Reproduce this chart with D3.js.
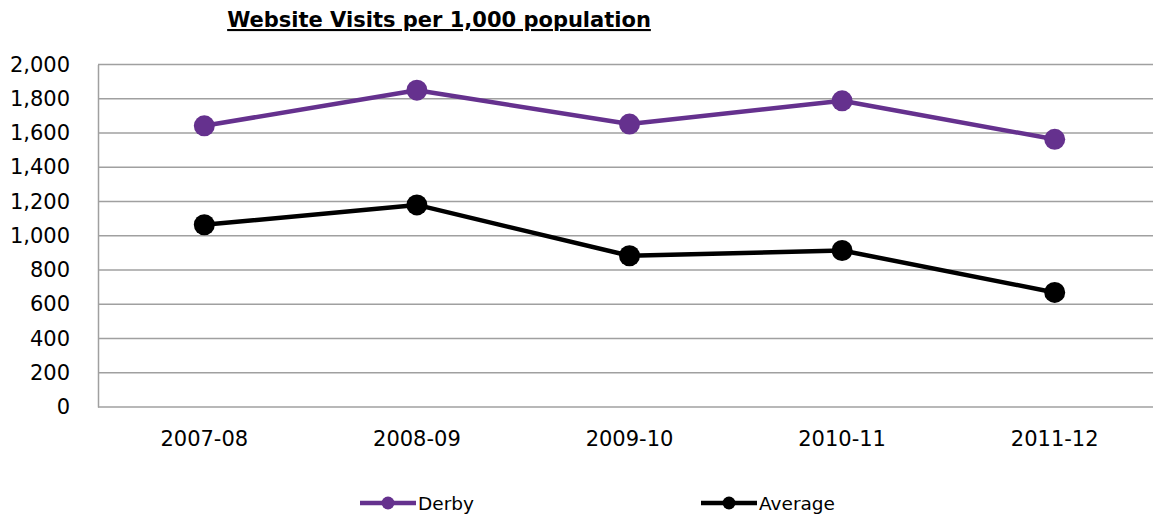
<!DOCTYPE html>
<html><head><meta charset="utf-8">
<script src="https://cdn.jsdelivr.net/npm/d3@7"></script>
<style>body{margin:0;background:#fff;} svg{display:block;font-family:"DejaVu Sans",Verdana,sans-serif;}</style>
</head><body><svg id="c" width="1153" height="516"></svg>
<script>
const categories = ["2007-08","2008-09","2009-10","2010-11","2011-12"];
const derby = [1642, 1850, 1652, 1788, 1563];
const average = [1064, 1180, 883, 914, 669];
const yTicks = [0,200,400,600,800,1000,1200,1400,1600,1800,2000];
const seriesNames = ["Derby","Average"];
const seriesColors = ["#65318e","#000000"];

const FS = 21;
const svg = d3.select("#c");
const m = {left:98, top:64.5, right:-8, bottom:109};
const W = 1153, H = 516;
const x = d3.scaleBand().domain(categories).range([m.left, W - m.right]);
const y = d3.scaleLinear().domain([0,2000]).range([H - m.bottom, m.top]);

// gridlines
svg.append("g").selectAll("line").data(yTicks).join("line")
  .attr("x1", m.left).attr("x2", W - m.right)
  .attr("y1", d=>y(d)).attr("y2", d=>y(d))
  .attr("stroke","#a0a0a0").attr("stroke-width",1.5);

// y axis
const ya = svg.append("g").attr("transform",`translate(${m.left},0)`)
  .call(d3.axisLeft(y).tickValues(yTicks).tickSize(0).tickPadding(28).tickFormat(d3.format(",")));
ya.attr("font-size",FS).attr("font-family","DejaVu Sans, Verdana, sans-serif");
ya.select(".domain").attr("stroke","#a0a0a0").attr("stroke-width",1.5);
ya.selectAll("text").attr("fill","#000");

// x axis
const xa = svg.append("g").attr("transform",`translate(0,${y(0)})`)
  .call(d3.axisBottom(x).tickSize(0).tickPadding(24));
xa.attr("font-size",FS).attr("font-family","DejaVu Sans, Verdana, sans-serif");
xa.select(".domain").remove();
xa.selectAll("text").attr("fill","#000");

const cx = d => x(d) + x.bandwidth()/2;
const data = [derby, average];
data.forEach((vals,i)=>{
  const pts = categories.map((c,j)=>[cx(c), y(vals[j])]);
  svg.append("path").attr("d", d3.line()(pts)).attr("fill","none")
    .attr("stroke", seriesColors[i]).attr("stroke-width",4.5).attr("stroke-linejoin","round");
  svg.append("g").selectAll("circle").data(pts).join("circle")
    .attr("cx",d=>d[0]).attr("cy",d=>d[1]).attr("r",10.5).attr("fill",seriesColors[i]);
});

// title
svg.append("text").attr("x",439).attr("y",27).attr("text-anchor","middle")
  .attr("font-size",FS).attr("font-weight","bold").attr("text-decoration","underline")
  .text("Website Visits per 1,000 population");

// legend
const legX = [360, 701];
seriesNames.forEach((n,i)=>{
  const g = svg.append("g").attr("transform",`translate(${legX[i]},503)`);
  g.append("line").attr("x1",0).attr("x2",56).attr("y1",0).attr("y2",0)
    .attr("stroke",seriesColors[i]).attr("stroke-width",4.5);
  g.append("circle").attr("cx",28).attr("cy",0).attr("r",6.5).attr("fill",seriesColors[i]);
  g.append("text").attr("x",58).attr("y",7).attr("font-size",18.5).text(n);
});
</script></body></html>
